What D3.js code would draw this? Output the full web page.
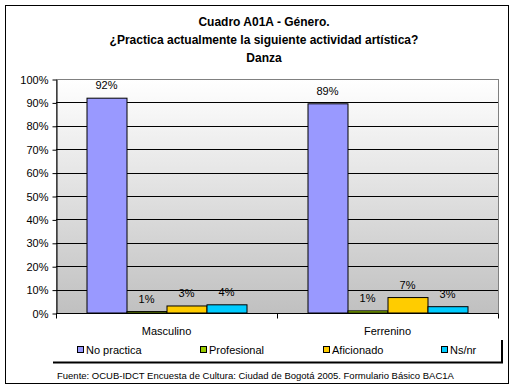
<!DOCTYPE html>
<html>
<head>
<meta charset="utf-8">
<script src="https://cdn.jsdelivr.net/npm/d3@7"></script>
<style>
body{margin:0;background:#fff;}
text{font-family:"Liberation Sans",Arial,sans-serif;}
</style>
</head>
<body>
<svg id="chart" width="515" height="391"></svg>
<script>
// categories / series (percent values)
var categories = ["Masculino", "Ferrenino"];
var seriesNames = ["No practica", "Profesional", "Aficionado", "Ns/nr"];
var seriesColors = ["#9999FF", "#99CC00", "#FFCC00", "#00CCFF"];
var noPractica = [91.8, 89.4];
var profesional = [0.6, 0.9];
var aficionado = [3.0, 6.6];
var nsnr = [3.5, 2.7];
var yTicks = [0, 10, 20, 30, 40, 50, 60, 70, 80, 90, 100];
var titleLines = ["Cuadro A01A - Género.", "¿Practica actualmente la siguiente actividad artística?", "Danza"];
var footer = "Fuente: OCUB-IDCT Encuesta de Cultura: Ciudad de Bogotá 2005. Formulario Básico BAC1A";

var seriesVals = [noPractica, profesional, aficionado, nsnr];

var svg = d3.select("#chart");

// outer frame
svg.append("rect").attr("x", 5.5).attr("y", 5.5).attr("width", 503).attr("height", 378)
	.attr("fill", "#fff").attr("stroke", "#000").attr("stroke-width", 1);

// title
svg.selectAll(".title").data(titleLines).enter().append("text")
	.attr("x", 264).attr("y", function(d, i){ return 26 + i * 18; })
	.attr("text-anchor", "middle").attr("font-size", 12).attr("font-weight", "bold")
	.text(function(d){ return d; });

var plotL = 56, plotR = 498, plotT = 79, plotB = 313;

var x0 = d3.scaleBand().domain(categories).range([plotL, plotR]);
var x1 = d3.scaleBand().domain(seriesNames).range([0, 160]);
var y = d3.scaleLinear().domain([0, 100]).range([plotB, plotT]);

// plot background gradient
var grad = svg.append("defs").append("linearGradient").attr("id", "bg")
	.attr("x1", 0).attr("y1", 0).attr("x2", 0).attr("y2", 1);
grad.append("stop").attr("offset", "0%").attr("stop-color", "#ffffff");
grad.append("stop").attr("offset", "100%").attr("stop-color", "#c0c0c0");

svg.append("rect").attr("x", plotL + 0.5).attr("y", plotT + 0.5).attr("width", plotR - plotL).attr("height", plotB - plotT)
	.attr("fill", "url(#bg)").attr("stroke", "#808080").attr("stroke-width", 1);

// gridlines
svg.selectAll(".grid").data(yTicks.filter(function(t){ return t > 0 && t < 100; })).enter().append("line")
	.attr("x1", plotL).attr("x2", plotR)
	.attr("y1", function(d){ return Math.round(y(d)) + 0.5; })
	.attr("y2", function(d){ return Math.round(y(d)) + 0.5; })
	.attr("stroke", "#000").attr("stroke-width", 1);

// y axis
var yAxis = svg.append("g").attr("transform", "translate(" + (plotL + 0.5) + ",0.5)")
	.call(d3.axisLeft(y).tickValues(yTicks).tickSize(4).tickSizeOuter(0).tickFormat(function(d){ return d + "%"; }));
yAxis.select(".domain").attr("stroke", "#000");
yAxis.selectAll("line").attr("stroke", "#000");
yAxis.selectAll("text").attr("font-size", 11).attr("font-family", "Liberation Sans, Arial, sans-serif").attr("fill", "#000").attr("x", -8);

// bars
categories.forEach(function(cat, ci){
	var gx = x0(cat) + (x0.bandwidth() - 160) / 2;
	seriesNames.forEach(function(s, si){
		var v = seriesVals[si][ci];
		var bx = gx + x1(s);
		svg.append("rect").attr("x", bx + 0.5).attr("y", y(v)).attr("width", x1.bandwidth())
			.attr("height", plotB - y(v)).attr("fill", seriesColors[si]).attr("stroke", "#000").attr("stroke-width", 1);
		svg.append("text").attr("x", bx + x1.bandwidth() / 2).attr("y", y(v) - 9)
			.attr("text-anchor", "middle").attr("font-size", 11).text(Math.round(v) + "%");
	});
});

// x axis
var xAxis = svg.append("g").attr("transform", "translate(0," + (plotB + 0.5) + ")");
xAxis.append("line").attr("x1", plotL).attr("x2", plotR).attr("stroke", "#000");
[plotL, x0("Ferrenino"), plotR].forEach(function(t){
	xAxis.append("line").attr("x1", t + 0.5).attr("x2", t + 0.5).attr("y1", 0).attr("y2", 5).attr("stroke", "#000");
});
categories.forEach(function(cat){
	svg.append("text").attr("x", x0(cat) + x0.bandwidth() / 2).attr("y", 335)
		.attr("text-anchor", "middle").attr("font-size", 11).text(cat);
});

// legend with shadow
svg.append("line").attr("x1", 53).attr("x2", 503).attr("y1", 362.5).attr("y2", 362.5).attr("stroke", "#000").attr("stroke-width", 2);
svg.append("line").attr("x1", 502).attr("x2", 502).attr("y1", 340).attr("y2", 363).attr("stroke", "#000").attr("stroke-width", 2);
var legendX = [77, 200, 323, 441];
seriesNames.forEach(function(s, i){
	svg.append("rect").attr("x", legendX[i] + 0.5).attr("y", 346.5).attr("width", 6).attr("height", 6)
		.attr("fill", seriesColors[i]).attr("stroke", "#000");
	svg.append("text").attr("x", legendX[i] + 9).attr("y", 354).attr("font-size", 11).text(s);
});

// footer
svg.append("text").attr("x", 57).attr("y", 379).attr("font-size", 9.5).text(footer);
</script>
</body>
</html>
